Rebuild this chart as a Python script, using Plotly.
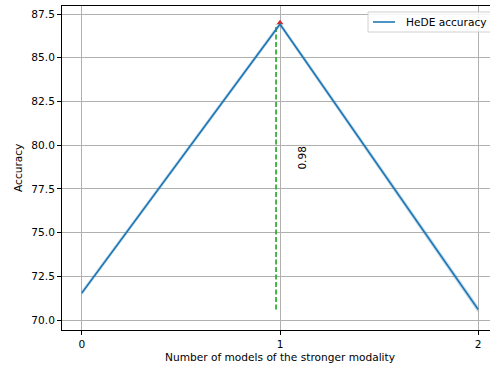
import plotly.graph_objects as go

x_models = [0, 1, 2]
acc_mean = [71.55, 86.92, 70.6]
acc_std = [0.15, 0.15, 0.2]
peak_x = [1]
peak_y = [87.0]
threshold_x = 0.98
threshold_label = "0.98"
series_name = "HeDE accuracy"
x_ticks = [0, 1, 2]
y_ticks = [70.0, 72.5, 75.0, 77.5, 80.0, 82.5, 85.0, 87.5]

upper = [m + s for m, s in zip(acc_mean, acc_std)]
lower = [m - s for m, s in zip(acc_mean, acc_std)]

font = "DejaVu Sans, sans-serif"
fs = 10.6
FIG_W, FIG_H = 498, 371
L, T, B, W, H = 62, 6, 330, 436, 324


def px(xp):
    return (xp - L) / W


def py(yp):
    return (B - yp) / H


fig = go.Figure()
fig.add_trace(go.Scatter(x=x_models, y=upper, mode="lines", line=dict(width=0),
                         showlegend=False, hoverinfo="skip"))
fig.add_trace(go.Scatter(x=x_models, y=lower, mode="lines", line=dict(width=0),
                         fill="tonexty", fillcolor="rgba(31,119,180,0.25)",
                         showlegend=False, hoverinfo="skip"))
fig.add_trace(go.Scatter(x=[threshold_x, threshold_x], y=[acc_mean[2], acc_mean[1]],
                         mode="lines", line=dict(color="#1fa51f", width=1.6, dash="5px,2.5px"),
                         showlegend=False))
fig.add_trace(go.Scatter(x=peak_x, y=peak_y, mode="markers",
                         marker=dict(symbol="triangle-up", color="#d62728", size=6),
                         showlegend=False))
fig.add_trace(go.Scatter(x=x_models, y=acc_mean, mode="lines", name=series_name,
                         line=dict(color="#1f77b4", width=1.6), showlegend=False))
fig.add_annotation(x=1.112, y=79.3, text=threshold_label, showarrow=False,
                   textangle=-90, font=dict(family=font, size=fs, color="black"))
fig.add_annotation(xref="paper", yref="paper", x=px(280), y=py(357),
                   text="Number of models of the stronger modality", showarrow=False,
                   xanchor="center", yanchor="middle",
                   font=dict(family=font, size=fs, color="black"))
fig.add_annotation(xref="paper", yref="paper", x=px(18), y=0.5,
                   text="Accuracy", showarrow=False, textangle=-90,
                   xanchor="center", yanchor="middle",
                   font=dict(family=font, size=fs, color="black"))

# legend box (matplotlib style, running past the right edge like the reference)
fig.add_shape(type="rect", xref="paper", yref="paper", x0=px(368), x1=px(494),
              y0=py(32), y1=py(12), line=dict(color="#d0d0d0", width=1),
              fillcolor="rgba(255,255,255,0.85)", layer="above")
fig.add_shape(type="line", xref="paper", yref="paper", x0=px(373), x1=px(395),
              y0=py(22), y1=py(22), line=dict(color="#1f77b4", width=1.6), layer="above")
fig.add_annotation(xref="paper", yref="paper", x=px(404), y=py(22), text=series_name,
                   showarrow=False, xanchor="left", yanchor="middle",
                   font=dict(family=font, size=fs, color="black"))

fig.update_layout(
    width=FIG_W, height=FIG_H,
    margin=dict(l=L, r=FIG_W - L - W, t=T, b=FIG_H - B),
    paper_bgcolor="white", plot_bgcolor="white",
    font=dict(family=font, size=fs, color="black"),
    showlegend=False,
    xaxis=dict(range=[-0.1, 2.1], tickvals=x_ticks, showgrid=True, gridcolor="#b0b0b0",
               gridwidth=0.85, zeroline=False, showline=True, linecolor="black", linewidth=0.85,
               mirror=True, ticks="outside", ticklen=4, tickcolor="black", automargin=False,
               tickfont=dict(size=fs)),
    yaxis=dict(range=[69.43, 87.96], tickvals=y_ticks, tickformat=".1f", showgrid=True,
               gridcolor="#b0b0b0", gridwidth=0.85, zeroline=False, showline=True,
               linecolor="black", linewidth=0.85, ticks="outside", ticklen=4, tickcolor="black",
               mirror=False, automargin=False, tickfont=dict(size=fs)),
)
fig.write_html("out.html", config={"displayModeBar": False},
               post_script="document.body.style.margin='0';"
                           "document.body.style.overflow='hidden';"
                           "document.documentElement.style.overflow='hidden';")
